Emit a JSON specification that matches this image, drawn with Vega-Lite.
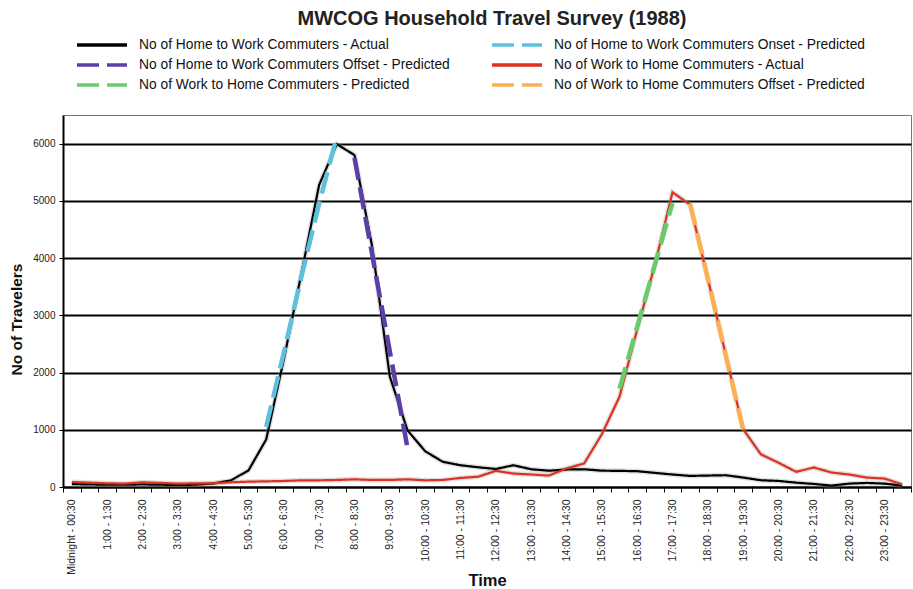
{
  "$schema": "https://vega.github.io/schema/vega-lite/v6.json",
  "width": 848,
  "height": 372,
  "autosize": "none",
  "padding": {"left": 63, "top": 115, "right": 2, "bottom": 102},
  "background": "white",
  "config": {"view": {"stroke": "#777", "strokeWidth": 1}, "font": "Liberation Sans"},
  "title": {"text": "MWCOG Household Travel Survey (1988)", "font": "Liberation Sans", "fontSize": 20, "fontWeight": "bold", "color": "#222", "offset": 9, "anchor": "middle", "dx": 5},
  "data": {"values": [
    {"t": "Midnight - 00:30", "hw": 50, "wh": 88},
    {"t": "00:30 - 1:00", "hw": 45, "wh": 76},
    {"t": "1:00 - 1:30", "hw": 40, "wh": 64},
    {"t": "1:30 - 2:00", "hw": 40, "wh": 58},
    {"t": "2:00 - 2:30", "hw": 45, "wh": 82},
    {"t": "2:30 - 3:00", "hw": 40, "wh": 72},
    {"t": "3:00 - 3:30", "hw": 35, "wh": 58},
    {"t": "3:30 - 4:00", "hw": 40, "wh": 64},
    {"t": "4:00 - 4:30", "hw": 60, "wh": 64},
    {"t": "4:30 - 5:00", "hw": 115, "wh": 82},
    {"t": "5:00 - 5:30", "hw": 290, "wh": 93},
    {"t": "5:30 - 6:00", "hw": 830, "wh": 99, "hwOn": 1050},
    {"t": "6:00 - 6:30", "hw": 2230, "wh": 105, "hwOn": 2350},
    {"t": "6:30 - 7:00", "hw": 3740, "wh": 117, "hwOn": 3680},
    {"t": "7:00 - 7:30", "hw": 5280, "wh": 117, "hwOn": 4950},
    {"t": "7:30 - 8:00", "hw": 5990, "wh": 123, "hwOn": 6130},
    {"t": "8:00 - 8:30", "hw": 5800, "wh": 134, "hwOff": 5750},
    {"t": "8:30 - 9:00", "hw": 4200, "wh": 123, "hwOff": 4060},
    {"t": "9:00 - 9:30", "hw": 1930, "wh": 123, "hwOff": 2370},
    {"t": "9:30 - 10:00", "hw": 990, "wh": 134, "hwOff": 680},
    {"t": "10:00 - 10:30", "hw": 625, "wh": 117},
    {"t": "10:30 - 11:00", "hw": 440, "wh": 123},
    {"t": "11:00 - 11:30", "hw": 380, "wh": 158},
    {"t": "11:30 - 12:00", "hw": 345, "wh": 180},
    {"t": "12:00 - 12:30", "hw": 315, "wh": 282},
    {"t": "12:30 - 13:00", "hw": 380, "wh": 235},
    {"t": "13:00 - 13:30", "hw": 310, "wh": 218},
    {"t": "13:30 - 14:00", "hw": 285, "wh": 200},
    {"t": "14:00 - 14:30", "hw": 305, "wh": 324},
    {"t": "14:30 - 15:00", "hw": 310, "wh": 412},
    {"t": "15:00 - 15:30", "hw": 285, "wh": 920},
    {"t": "15:30 - 16:00", "hw": 282, "wh": 1577, "whOn": 1720},
    {"t": "16:00 - 16:30", "hw": 276, "wh": 2750, "whOn": 2800},
    {"t": "16:30 - 17:00", "hw": 247, "wh": 3880, "whOn": 3880},
    {"t": "17:00 - 17:30", "hw": 218, "wh": 5150, "whOn": 4960},
    {"t": "17:30 - 18:00", "hw": 194, "wh": 4930, "whOff": 4950},
    {"t": "18:00 - 18:30", "hw": 200, "wh": 3640, "whOff": 3640},
    {"t": "18:30 - 19:00", "hw": 206, "wh": 2330, "whOff": 2320},
    {"t": "19:00 - 19:30", "hw": 165, "wh": 1010, "whOff": 1000},
    {"t": "19:30 - 20:00", "hw": 118, "wh": 571},
    {"t": "20:00 - 20:30", "hw": 106, "wh": 424},
    {"t": "20:30 - 21:00", "hw": 76, "wh": 265},
    {"t": "21:00 - 21:30", "hw": 53, "wh": 341},
    {"t": "21:30 - 22:00", "hw": 24, "wh": 253},
    {"t": "22:00 - 22:30", "hw": 59, "wh": 218},
    {"t": "22:30 - 23:00", "hw": 71, "wh": 165},
    {"t": "23:00 - 23:30", "hw": 59, "wh": 147},
    {"t": "23:30 - Midnight", "hw": 24, "wh": 47}
  ]},
  "transform": [
    {"fold": ["hw", "hwOn", "hwOff", "wh", "whOn", "whOff"], "as": ["s", "v"]},
    {"filter": "isValid(datum.v)"}
  ],
  "encoding": {
    "x": {
      "field": "t", "type": "ordinal", "sort": null,
      "scale": {"type": "band", "paddingInner": 0, "paddingOuter": 0},
      "axis": {
        "title": "Time", "titleFontSize": 16.5, "titleFontWeight": "bold", "titleColor": "#111",
        "titleY": 98, "titleBaseline": "alphabetic",
        "labelAngle": -90, "labelFontSize": 10.5, "labelColor": "#222", "labelPadding": 7,
        "labelOverlap": false, "labelBound": false,
        "labelExpr": "indexof(datum.label, ':30 -') >= 0 ? '' : datum.label",
        "tickBand": "extent", "tickSize": 5, "tickColor": "black", "tickWidth": 1,
        "domainColor": "black", "domainWidth": 2, "grid": false
      }
    },
    "y": {
      "field": "v", "type": "quantitative",
      "scale": {"domain": [0, 6500], "nice": false},
      "axis": {
        "title": "No of Travelers", "titleFontSize": 15.5, "titleFontWeight": "bold", "titleColor": "#111",
        "titlePadding": 8, "titleY": 204,
        "values": [0, 1000, 2000, 3000, 4000, 5000, 6000], "format": "d",
        "grid": true, "gridColor": "black", "gridWidth": 2,
        "tickSize": 4, "tickColor": "black", "tickWidth": 1,
        "domainColor": "black", "domainWidth": 2,
        "labelFontSize": 10, "labelColor": "#222", "labelPadding": 4
      }
    },
    "order": {"value": null}
  },
  "layer": [
    {
      "transform": [{"filter": "datum.s == 'hw' || datum.s == 'wh'"}],
      "mark": {"type": "line", "color": "#999", "strokeWidth": 5, "opacity": 0.3},
      "encoding": {"detail": {"field": "s"}}
    },
    {
      "transform": [{"filter": "datum.s == 'hw'"}],
      "mark": {"type": "line", "strokeWidth": 2.2},
      "encoding": {
        "color": {"field": "s", "type": "nominal"},
        "strokeDash": {"field": "s", "type": "nominal"}
      }
    },
    {
      "transform": [{"filter": "datum.s == 'wh'"}],
      "mark": {"type": "line", "strokeWidth": 2.2},
      "encoding": {
        "color": {"field": "s", "type": "nominal"},
        "strokeDash": {"field": "s", "type": "nominal"}
      }
    },
    {
      "transform": [{"filter": "datum.s != 'hw' && datum.s != 'wh'"}],
      "mark": {"type": "line", "strokeWidth": 4.5},
      "encoding": {
        "color": {
          "field": "s", "type": "nominal",
          "scale": {"domain": ["hw", "hwOn", "hwOff", "wh", "whOn", "whOff"], "range": ["#000000", "#5cc1df", "#5b3ea6", "#e0301e", "#6acb6a", "#fdb052"]},
          "legend": {
            "orient": "none", "legendX": 12, "legendY": -77, "columns": 2, "columnPadding": 40,
            "direction": "horizontal", "title": null, "symbolType": "stroke", "symbolSize": 2500,
            "symbolStrokeWidth": 3.5,
            "clipHeight": 14, "padding": 0,
            "labelFontSize": 13.8, "labelColor": "#111", "rowPadding": 6, "labelOffset": 10,
            "labelLimit": 400,
            "labelExpr": "{'hw': 'No of Home to Work Commuters - Actual', 'hwOn': 'No of Home to Work Commuters Onset - Predicted', 'hwOff': 'No of Home to Work Commuters Offset - Predicted', 'wh': 'No of Work to Home Commuters - Actual', 'whOn': 'No of Work to Home Commuters - Predicted', 'whOff': 'No of Work to Home Commuters Offset - Predicted'}[datum.value]"
          }
        },
        "strokeDash": {
          "field": "s", "type": "nominal",
          "scale": {"domain": ["hw", "hwOn", "hwOff", "wh", "whOn", "whOff"], "range": [[1, 0], [22, 8], [22, 8], [1, 0], [22, 8], [22, 8]]}
        }
      }
    }
  ]
}
